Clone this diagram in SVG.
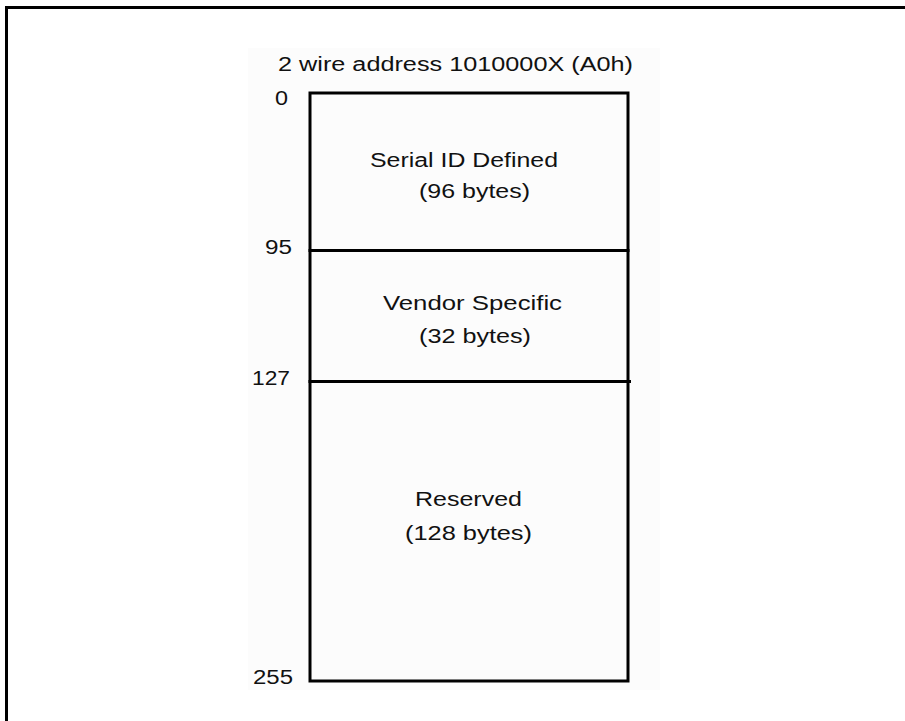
<svg xmlns="http://www.w3.org/2000/svg" width="905" height="721" viewBox="0 0 905 721">
  <style>
    text { font-family: "Liberation Sans", Arial, sans-serif; font-size: 20px; fill: #111111; }
    .ln { stroke: #000; stroke-width: 3; fill: none; }
  </style>
  <rect x="0" y="0" width="905" height="721" fill="#ffffff"/>
  <rect x="248" y="48" width="412" height="642" fill="#fcfcfc"/>
  <path class="ln" d="M6.5,721 V7.5 H905"/>
  <text x="278" y="71" textLength="355" lengthAdjust="spacingAndGlyphs">2 wire address 1010000X (A0h)</text>
  <g id="labels">
    <text x="275" y="105" textLength="13" lengthAdjust="spacingAndGlyphs">0</text>
    <text x="265" y="254" textLength="27" lengthAdjust="spacingAndGlyphs">95</text>
    <text x="252" y="385" textLength="38" lengthAdjust="spacingAndGlyphs">127</text>
    <text x="253" y="684" textLength="40" lengthAdjust="spacingAndGlyphs">255</text>
  </g>
  <g id="serial-id">
    <rect class="ln" x="310" y="93" width="318" height="157.5"/>
    <text x="370" y="167" textLength="188" lengthAdjust="spacingAndGlyphs">Serial ID Defined</text>
    <text x="419" y="198" textLength="111" lengthAdjust="spacingAndGlyphs">(96 bytes)</text>
  </g>
  <g id="vendor-specific">
    <rect class="ln" x="310" y="250.5" width="318" height="131"/>
    <text x="383" y="310" textLength="179" lengthAdjust="spacingAndGlyphs">Vendor Specific</text>
    <text x="419" y="343" textLength="112" lengthAdjust="spacingAndGlyphs">(32 bytes)</text>
  </g>
  <g id="reserved">
    <rect class="ln" x="310" y="381.5" width="318" height="299.5"/>
    <line class="ln" x1="628" y1="381.5" x2="631" y2="381.5"/>
    <text x="415" y="506" textLength="107" lengthAdjust="spacingAndGlyphs">Reserved</text>
    <text x="405" y="540" textLength="127" lengthAdjust="spacingAndGlyphs">(128 bytes)</text>
  </g>
  <g id="connectors"/>
</svg>
